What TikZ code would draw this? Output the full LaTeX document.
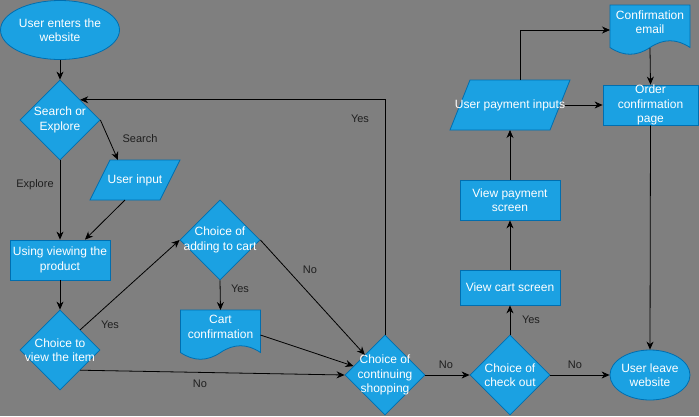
\documentclass[tikz,border=0pt]{standalone}
\usepackage{fontspec}
\setmainfont{Liberation Sans}
\usetikzlibrary{shapes.geometric,arrows.meta,calc}
\definecolor{bgc}{HTML}{7F7F7F}
\definecolor{fillc}{HTML}{1BA1E2}
\definecolor{strokec}{HTML}{006EAF}
\definecolor{lblc}{HTML}{1F1F1F}
\tikzset{
  shp/.style={fill=fillc,draw=strokec,line width=0.8pt},
  holder/.style={draw=none,fill=none,inner sep=0pt,outer sep=0pt},
  txt/.style={text=white,font=\fontsize{12}{14.5}\selectfont,align=center,inner sep=0pt},
  lbl/.style={text=lblc,font=\fontsize{11}{13}\selectfont,inner sep=0pt},
  conn/.style={draw=black,line width=0.8pt,-{Stealth[length=8pt,width=7pt,inset=2.5pt]}}
}
\newcommand{\mydocshape}[1]{%
  \path[shp] (#1.north west) -- (#1.north east) -- ($(#1.north west)+(80,42.5)$)
    .. controls ($(#1.north west)+(66.67,33.5)$) and ($(#1.north west)+(53.33,33.5)$) .. ($(#1.north west)+(40,42.5)$)
    .. controls ($(#1.north west)+(26.67,51.5)$) and ($(#1.north west)+(13.33,51.5)$) .. ($(#1.north west)+(0,42.5)$) -- cycle;}
\begin{document}
\begin{tikzpicture}[x=1pt,y=-1pt]
\useasboundingbox (0,0) rectangle (699,416);
\fill[bgc] (0,0) rectangle (699,416);

% ---- shapes ----
\node[shp,ellipse,minimum width=119pt,minimum height=59pt,inner sep=0pt] (e1) at (60,30) {};
\node[shp,diamond,minimum width=80pt,minimum height=80pt,inner sep=0pt] (d1) at (60,120) {};
\node[holder,minimum width=90pt,minimum height=40pt] (ui) at (135,180) {};
\path[shp] ([xshift=20pt]ui.north west) -- (ui.north east) -- ([xshift=-20pt]ui.south east) -- (ui.south west) -- cycle;
\node[shp,rectangle,minimum width=100pt,minimum height=40pt,inner sep=0pt] (r1) at (60,260) {};
\node[shp,diamond,minimum width=80pt,minimum height=80pt,inner sep=0pt] (d2) at (60,350) {};
\node[shp,diamond,minimum width=80pt,minimum height=80pt,inner sep=0pt] (d3) at (220,240) {};
\node[holder,minimum width=80pt,minimum height=50pt] (cart) at (220.5,335) {};
\mydocshape{cart}
\node[shp,diamond,minimum width=80pt,minimum height=80pt,inner sep=0pt] (d4) at (385,375) {};
\node[shp,diamond,minimum width=80pt,minimum height=80pt,inner sep=0pt] (d5) at (510,375) {};
\node[shp,ellipse,minimum width=80pt,minimum height=50pt,inner sep=0pt] (e2) at (650,375) {};
\node[shp,rectangle,minimum width=100pt,minimum height=35pt,inner sep=0pt] (vc) at (510,287.5) {};
\node[shp,rectangle,minimum width=100pt,minimum height=40pt,inner sep=0pt] (vp) at (510,200) {};
\node[holder,minimum width=120pt,minimum height=50pt] (pi) at (510,105) {};
\path[shp] ([xshift=20pt]pi.north west) -- (pi.north east) -- ([xshift=-20pt]pi.south east) -- (pi.south west) -- cycle;
\node[shp,rectangle,minimum width=95pt,minimum height=40pt,inner sep=0pt] (oc) at (650.5,105) {};
\node[holder,minimum width=80pt,minimum height=50pt] (ce) at (650,30) {};
\mydocshape{ce}

% ---- texts ----
\node[txt] (te1) at (e1) {User enters the\\website};
\node[txt] (td1) at (d1) {Search or\\Explore};
\node[txt] (tui) at (ui) {User input};
\node[txt] (tr1) at (r1) {Using viewing the\\product};
\node[txt] (td2) at (d2) {Choice to\\view the item};
\node[txt] (td3) at (d3) {Choice of\\adding to cart};
\node[txt] (tcart) at ([yshift=8pt]cart.center) {Cart\\confirmation};
\node[txt] (td4) at (d4) {Choice of\\continuing\\shopping};
\node[txt] (td5) at (d5) {Choice of\\check out};
\node[txt] (te2) at (e2) {User leave\\website};
\node[txt] (tvc) at (vc) {View cart screen};
\node[txt] (tvp) at (vp) {View payment\\screen};
\node[txt] (tpi) at (pi) {User payment inputs};
\node[txt] (toc) at (oc) {Order\\confirmation\\page};
\node[txt] (tce) at ([yshift=8pt]ce.center) {Confirmation\\email};

% ---- connectors ----
\draw[conn] (e1.south) -- (d1.north);
\draw[conn] (d1.east) -- ([xshift=28pt]ui.north west);
\draw[conn] (d1.south) -- (r1.north);
\draw[conn] ([xshift=35pt]ui.south west) -- ([xshift=25pt]r1.north);
\draw[conn] (r1.south) -- (d2.north);
\draw[conn] ($(d2.north)!0.5!(d2.east)$) -- (d3.west);
\draw[conn] ($(d2.east)!0.5!(d2.south)$) -- (d4.west);
\draw[conn] (d3.south) -- (cart.north);
\draw[conn] (d3.east) -- ($(d4.west)!0.5!(d4.north)$);
\draw[conn] (cart.east) -- ($(d4.west)!0.22!(d4.north)$);
\draw[conn] (d4.north) |- ($(d1.north)!0.5!(d1.east)$);
\draw[conn] (d4.east) -- (d5.west);
\draw[conn] (d5.east) -- (e2.west);
\draw[conn] (d5.north) -- (vc.south);
\draw[conn] (vc.north) -- (vp.south);
\draw[conn] (vp.north) -- (pi.south);
\draw[conn] ([xshift=10pt]pi.north) |- (ce.west);
\draw[conn] ([xshift=-5pt]pi.east) -- (oc.west);
\draw[conn] ([yshift=7pt]ce.south) -- (oc.north);
\draw[conn] (oc.south) -- (e2.north);

% ---- labels ----
\node[lbl] (l1) at (140,139) {Search};
\node[lbl] (l2) at (35,185) {Explore};
\node[lbl] (l3) at (110,325) {Yes};
\node[lbl] (l4) at (200,384) {No};
\node[lbl] (l5) at (240,289) {Yes};
\node[lbl] (l6) at (310,270) {No};
\node[lbl] (l7) at (360,119) {Yes};
\node[lbl] (l8) at (446,365) {No};
\node[lbl] (l9) at (575,365) {No};
\node[lbl] (l10) at (531,320) {Yes};
\end{tikzpicture}
\end{document}
